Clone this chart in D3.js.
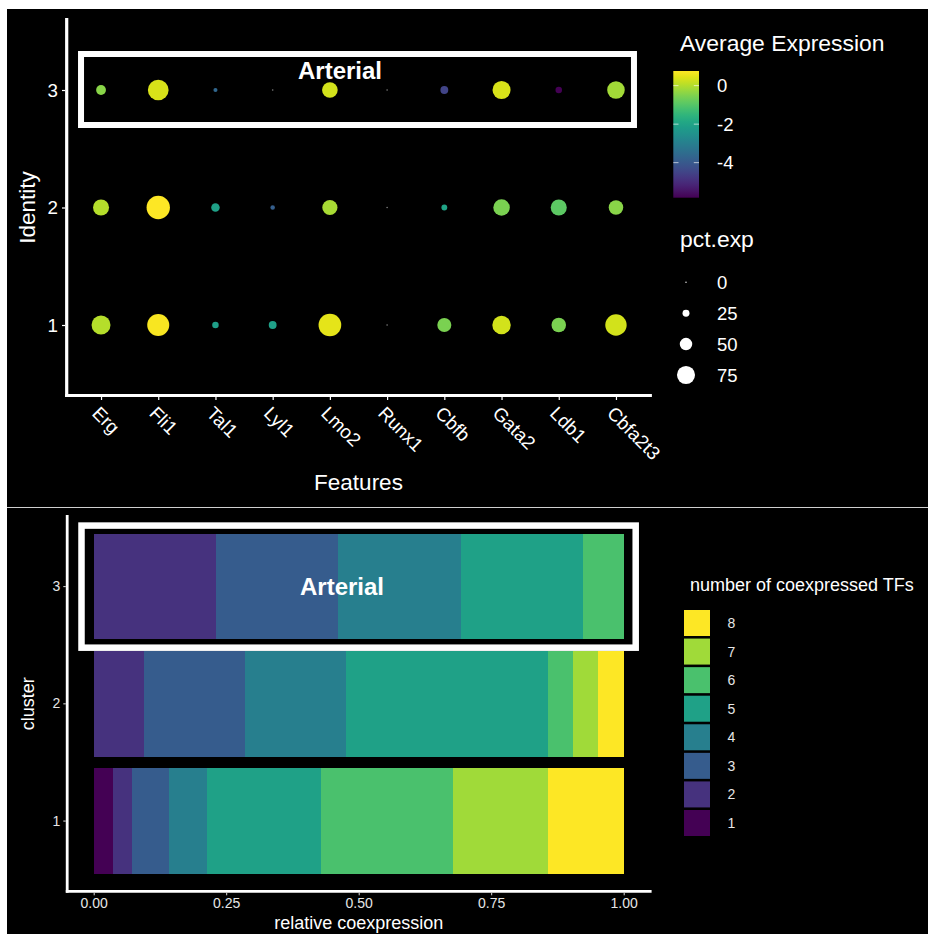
<!DOCTYPE html>
<html>
<head>
<meta charset="utf-8">
<script src="https://cdn.jsdelivr.net/npm/d3@7"></script>
<style>
  html, body { margin: 0; padding: 0; background: #fff; }
  svg { display: block; font-family: "Liberation Sans", Arial, sans-serif; }
</style>
</head>
<body>
<svg id="chart" width="928" height="934"></svg>
<script>
// ---- Dot plot: TF expression per identity ----
const features = ["Erg", "Fli1", "Tal1", "Lyl1", "Lmo2", "Runx1", "Cbfb", "Gata2", "Ldb1", "Cbfa2t3"];
const identities = [3, 2, 1];
// percent of cells expressing each feature
const pctExp1 = [79, 93, 23, 29, 96, 1, 57, 77, 59, 90];
const pctExp2 = [66, 99, 32, 14, 62, 1, 20, 68, 66, 59];
const pctExp3 = [38, 87, 12, 1, 64, 1, 29, 75, 23, 73];
// average expression (null where nothing is detected)
const avgExp1 = [0.04, 0.69, -2.14, -2.10, 0.50, null, -0.56, 0.30, -0.56, 0.30];
const avgExp2 = [0.04, 0.76, -2.07, -3.85, -0.10, null, -2.00, -0.56, -0.89, -0.42];
const avgExp3 = [-0.42, 0.37, -3.65, null, 0.30, null, -4.50, 0.37, -5.82, -0.16];
const colorTicks = [0, -2, -4];
const sizeBreaks = [0, 25, 50, 75];

// ---- Coexpression: cells per cluster by number of coexpressed TFs ----
const clusters = [3, 2, 1];
const tfCounts = [1, 2, 3, 4, 5, 6, 7, 8];
const cellsCluster1 = [1, 1, 2, 2, 6, 7, 5, 4];
const cellsCluster2 = [0, 2, 4, 4, 8, 1, 1, 1];
const cellsCluster3 = [0, 3, 3, 3, 3, 1, 0, 0];
const coexTicks = [0, 0.25, 0.5, 0.75, 1];

const svg = d3.select("#chart");
const FONT = "'Liberation Sans', Arial, sans-serif";

// panel backgrounds
svg.append("rect").attr("x", 7).attr("y", 9).attr("width", 921).attr("height", 498).attr("fill", "#000");
svg.append("rect").attr("x", 7).attr("y", 508).attr("width", 921).attr("height", 426).attr("fill", "#000");
svg.append("line").attr("x1", 7).attr("x2", 928).attr("y1", 507.5).attr("y2", 507.5)
  .attr("stroke", "#cfcfcf").attr("stroke-width", 1);

// ================= top: dot plot =================
const dotRows = [
  { id: 1, pct: pctExp1, avg: avgExp1 },
  { id: 2, pct: pctExp2, avg: avgExp2 },
  { id: 3, pct: pctExp3, avg: avgExp3 }
];
const dots = dotRows.flatMap(r => features.map((f, i) => ({ id: r.id, feature: f, pct: r.pct[i], avg: r.avg[i] })));

const xDot = d3.scalePoint().domain(features).range([66.7, 650.3]).padding(0.6);
const yDot = d3.scalePoint().domain(identities).range([19.5, 395.5]).padding(0.6);
const allAvg = dots.map(d => d.avg).filter(v => v !== null);
const color = d3.scaleSequential(d3.interpolateViridis).domain(d3.extent(allAvg));
const radius = d3.scaleLinear().domain([0, 100]).range([0.7, 11.8]);

const dotG = svg.append("g");

// axis lines
dotG.append("line").attr("x1", 66.7).attr("x2", 650.3).attr("y1", 395.5).attr("y2", 395.5)
  .attr("stroke", "#fff").attr("stroke-width", 3.2).attr("stroke-linecap", "square");
dotG.append("line").attr("x1", 66.7).attr("x2", 66.7).attr("y1", 19.5).attr("y2", 395.5)
  .attr("stroke", "#fff").attr("stroke-width", 3.2).attr("stroke-linecap", "square");

// x axis
const gx = dotG.append("g").attr("transform", "translate(0,397)")
  .call(d3.axisBottom(xDot).tickSize(3).tickPadding(0));
gx.select(".domain").remove();
gx.selectAll(".tick line").attr("stroke", "#fff").attr("stroke-width", 1.2);
gx.selectAll(".tick text")
  .attr("fill", "#fff").attr("font-size", 18.8).attr("font-family", FONT)
  .attr("text-anchor", "start").attr("dy", null).attr("y", 0)
  .attr("transform", "translate(-10.5,17.5) rotate(45)");

// y axis
const gy = dotG.append("g").attr("transform", "translate(65,0)")
  .call(d3.axisLeft(yDot).tickSize(3).tickPadding(4));
gy.select(".domain").remove();
gy.selectAll(".tick line").attr("stroke", "#fff").attr("stroke-width", 1.2);
gy.selectAll(".tick text").attr("fill", "#fff").attr("font-size", 18.8).attr("font-family", FONT);

// dots
dotG.append("g").selectAll("circle").data(dots).join("circle")
  .attr("cx", d => xDot(d.feature))
  .attr("cy", d => yDot(d.id))
  .attr("r", d => radius(d.pct))
  .attr("fill", d => d.avg === null ? "#7f7f7f" : color(d.avg));

// axis titles
dotG.append("text").attr("x", 358.5).attr("y", 490).attr("text-anchor", "middle")
  .attr("fill", "#fff").attr("font-size", 22.5).text("Features");
dotG.append("text").attr("transform", "translate(35,207.5) rotate(-90)").attr("text-anchor", "middle")
  .attr("fill", "#fff").attr("font-size", 22.5).text("Identity");

// highlighted identity
const boxTop = dotG.append("g");
boxTop.append("rect")
  .attr("x", xDot(features[0]) - 20).attr("y", yDot(3) - 36)
  .attr("width", xDot(features[features.length - 1]) - xDot(features[0]) + 38).attr("height", 71)
  .attr("fill", "none").attr("stroke", "#fff").attr("stroke-width", 6);
boxTop.append("text").attr("x", 340).attr("y", 78.5).attr("text-anchor", "middle")
  .attr("fill", "#fff").attr("font-size", 24).attr("font-weight", "bold").text("Arterial");

// colour legend
const legTop = dotG.append("g");
legTop.append("text").attr("x", 680).attr("y", 51).attr("fill", "#fff").attr("font-size", 22.9).text("Average Expression");
const cbY = d3.scaleLinear().domain(color.domain()).range([197.7, 71]);
const defs = svg.append("defs");
const grad = defs.append("linearGradient").attr("id", "cbar").attr("x1", 0).attr("x2", 0).attr("y1", 1).attr("y2", 0);
d3.range(0, 1.0001, 0.05).forEach(t => grad.append("stop").attr("offset", t).attr("stop-color", d3.interpolateViridis(t)));
legTop.append("rect").attr("x", 673.3).attr("y", 71).attr("width", 25.7).attr("height", 126.7).attr("fill", "url(#cbar)");
colorTicks.forEach(v => {
  const y = cbY(v);
  legTop.append("line").attr("x1", 673.3).attr("x2", 678.5).attr("y1", y).attr("y2", y).attr("stroke", "#fff").attr("stroke-width", 0.8).attr("opacity", 0.8);
  legTop.append("line").attr("x1", 693.8).attr("x2", 699).attr("y1", y).attr("y2", y).attr("stroke", "#fff").attr("stroke-width", 0.8).attr("opacity", 0.8);
  legTop.append("text").attr("x", 717).attr("y", y).attr("dy", "0.36em").attr("fill", "#fff").attr("font-size", 18.5).text(v);
});

// size legend
legTop.append("text").attr("x", 680).attr("y", 247).attr("fill", "#fff").attr("font-size", 22.9).text("pct.exp");
const sizeY = d3.scalePoint().domain(sizeBreaks).range([282.3, 375]);
sizeBreaks.forEach(b => {
  legTop.append("circle").attr("cx", 686).attr("cy", sizeY(b)).attr("r", radius(b)).attr("fill", "#fff");
  legTop.append("text").attr("x", 717).attr("y", sizeY(b)).attr("dy", "0.36em").attr("fill", "#fff").attr("font-size", 18.5).text(b);
});

// ================= bottom: coexpression bars =================
const barRows = [
  { id: 1, cells: cellsCluster1 },
  { id: 2, cells: cellsCluster2 },
  { id: 3, cells: cellsCluster3 }
];
const segments = barRows.flatMap(r => {
  const total = d3.sum(r.cells);
  let acc = 0;
  return tfCounts.map((k, i) => {
    const s = { id: r.id, k, x0: acc / total, x1: (acc + r.cells[i]) / total };
    acc += r.cells[i];
    return s;
  }).filter(s => s.x1 > s.x0);
});

const xBar = d3.scaleLinear().domain([-0.05, 1.05]).range([67.2, 650.2]);
const yBar = d3.scaleBand().domain(clusters).range([516.3, 891.4]).paddingInner(0.1).paddingOuter(0.15);
const fill = d3.scaleOrdinal().domain(tfCounts).range(tfCounts.map((d, i) => d3.interpolateViridis(i / (tfCounts.length - 1))));

const barG = svg.append("g");
barG.append("g").attr("shape-rendering", "crispEdges").selectAll("rect").data(segments).join("rect")
  .attr("x", d => xBar(d.x0))
  .attr("width", d => xBar(d.x1) - xBar(d.x0))
  .attr("y", d => yBar(d.id))
  .attr("height", yBar.bandwidth())
  .attr("fill", d => fill(d.k));

// axis lines
barG.append("line").attr("x1", 67.2).attr("x2", 650.2).attr("y1", 891.4).attr("y2", 891.4)
  .attr("stroke", "#fff").attr("stroke-width", 2.8).attr("stroke-linecap", "square");
barG.append("line").attr("x1", 67.2).attr("x2", 67.2).attr("y1", 516.3).attr("y2", 891.4)
  .attr("stroke", "#fff").attr("stroke-width", 2.8).attr("stroke-linecap", "square");

const bx = barG.append("g").attr("transform", "translate(0,892.8)")
  .call(d3.axisBottom(xBar).tickValues(coexTicks).tickFormat(d3.format(".2f")).tickSize(2.5).tickPadding(3));
bx.select(".domain").remove();
bx.selectAll(".tick line").attr("stroke", "#ddd").attr("stroke-width", 1);
bx.selectAll(".tick text").attr("fill", "#e6e6e6").attr("font-size", 14).attr("font-family", FONT);

const by = barG.append("g").attr("transform", "translate(65.8,0)")
  .call(d3.axisLeft(yBar).tickSize(2.5).tickPadding(3));
by.select(".domain").remove();
by.selectAll(".tick line").attr("stroke", "#ddd").attr("stroke-width", 1);
by.selectAll(".tick text").attr("fill", "#e6e6e6").attr("font-size", 14).attr("font-family", FONT);

barG.append("text").attr("x", 358.7).attr("y", 929).attr("text-anchor", "middle")
  .attr("fill", "#fff").attr("font-size", 18).text("relative coexpression");
barG.append("text").attr("transform", "translate(33.5,703.8) rotate(-90)").attr("text-anchor", "middle")
  .attr("fill", "#fff").attr("font-size", 18).text("cluster");

// highlighted cluster
const b3 = yBar(3);
barG.append("rect")
  .attr("x", xBar(0) - 12.2).attr("y", b3 - 8.3)
  .attr("width", xBar(1) - xBar(0) + 24.2).attr("height", yBar.bandwidth() + 16.6)
  .attr("fill", "none").attr("stroke", "#fff").attr("stroke-width", 6.5);
barG.append("text").attr("x", 342).attr("y", 595).attr("text-anchor", "middle")
  .attr("fill", "#fff").attr("font-size", 24).attr("font-weight", "bold").text("Arterial");

// fill legend
const legBot = barG.append("g");
legBot.append("text").attr("x", 690).attr("y", 591).attr("fill", "#fff").attr("font-size", 18).text("number of coexpressed TFs");
const keyY = d3.scalePoint().domain(tfCounts.slice().reverse()).range([610, 810]);
tfCounts.forEach(k => {
  legBot.append("rect").attr("x", 684).attr("y", keyY(k)).attr("width", 26).attr("height", 26).attr("fill", fill(k));
  legBot.append("text").attr("x", 727.5).attr("y", keyY(k) + 13).attr("dy", "0.36em")
    .attr("fill", "#e6e6e6").attr("font-size", 14).text(k);
});
</script>
</body>
</html>
